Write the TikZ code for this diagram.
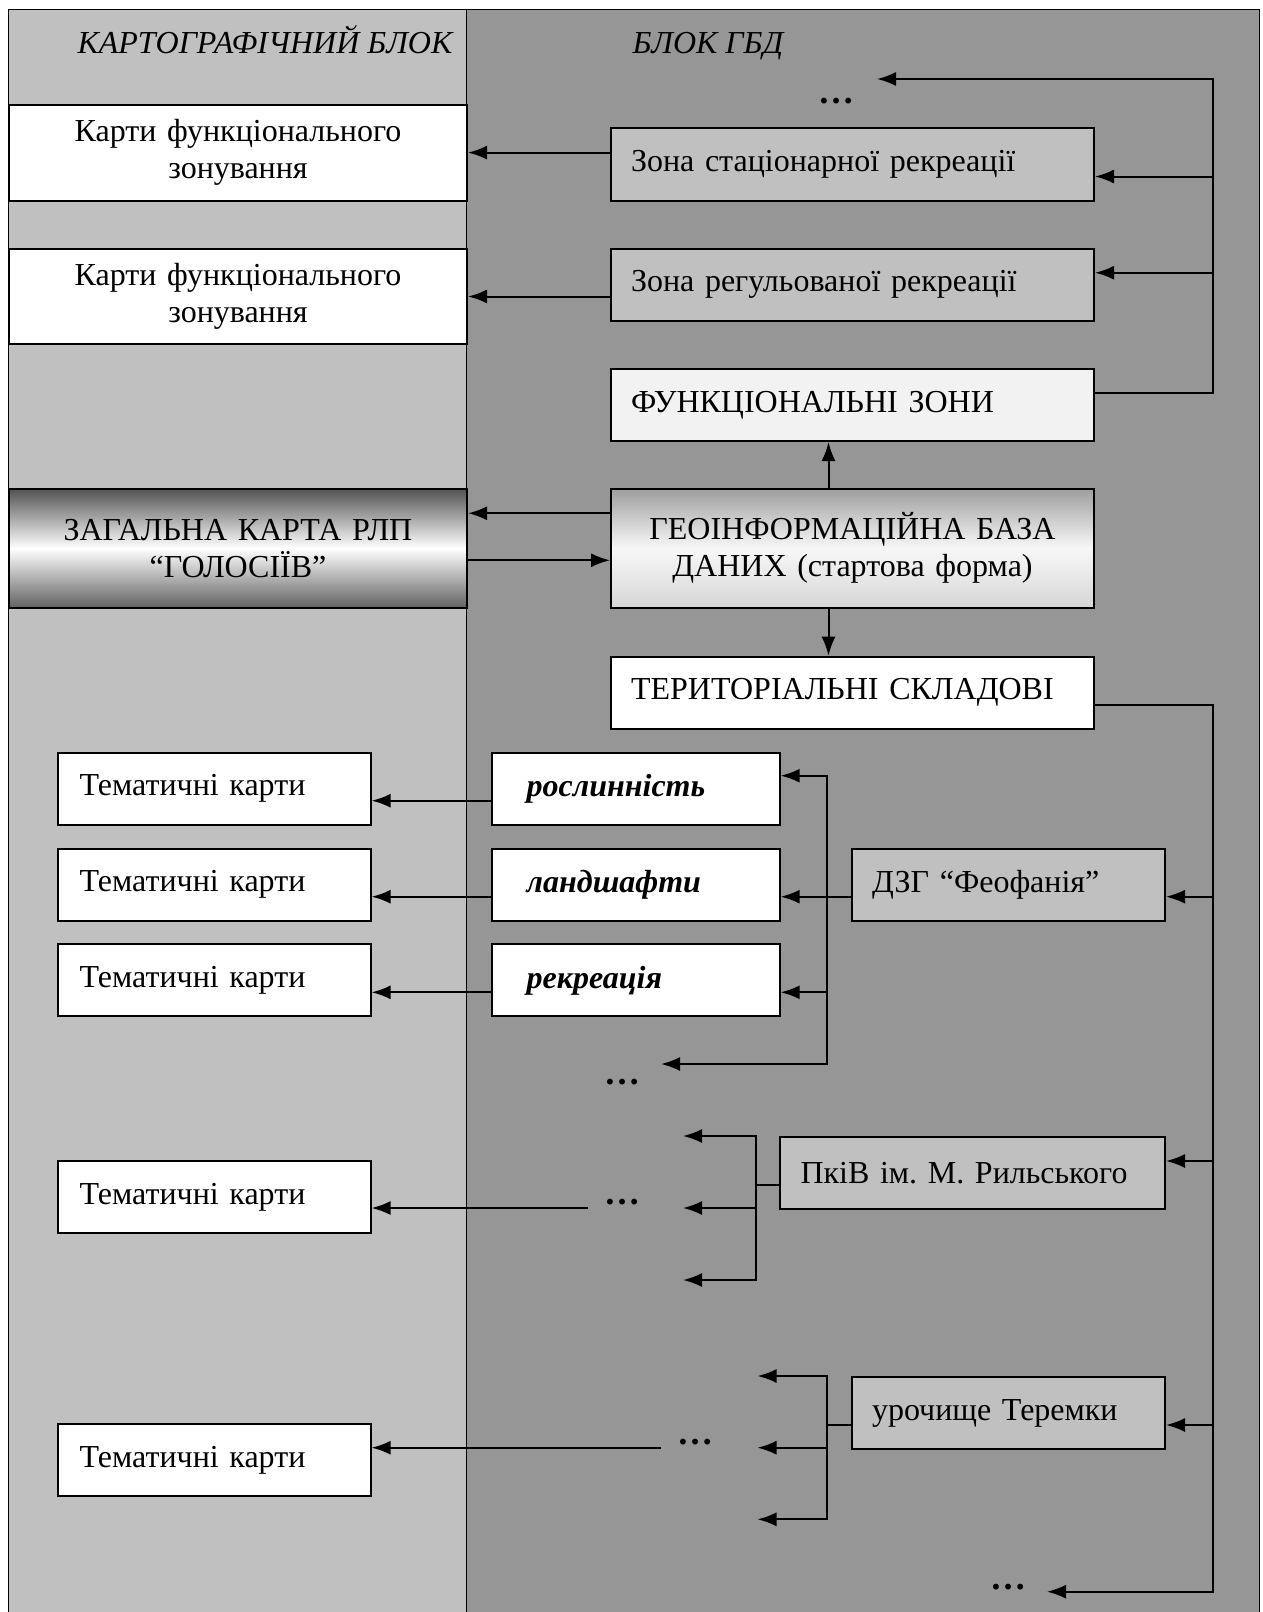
\documentclass[tikz,border=0pt]{standalone}
\usepackage{fontspec}
\setmainfont{Liberation Serif}
\usetikzlibrary{arrows.meta}

\definecolor{leftgray}{HTML}{C0C0C0}
\definecolor{rightgray}{HTML}{969696}
\newcommand{\diagfont}{\fontsize{32}{37}\selectfont}
\frenchspacing

\tikzset{
    >={Latex[length=19pt,width=14pt]},
    every node/.style={font=\diagfont},
    box/.style={draw, line width=2pt, anchor=north west, inner ysep=0pt, inner xsep=20pt, align=left},
    link/.style={line width=2pt},
    dots/.style={font=\fontsize{36}{40}\selectfont\bfseries},
}

\begin{document}
\begin{tikzpicture}[x=1pt, y=-1pt]

    \useasboundingbox (0,0) rectangle (1263,1612);

    % фон двох блоків
    \fill[leftgray] (8,9) rectangle (466,1612);
    \fill[rightgray] (466,9) rectangle (1259,1612);
    \draw[line width=1pt] (8,1612) -- (8,9) -- (1259,9) -- (1259,1612);
    \draw[line width=1pt] (466,9) -- (466,1612);

    % заголовки
    \node[anchor=base west, font=\diagfont\itshape] (hcart) at (74,53) {КАРТОГРАФІЧНИЙ БЛОК};
    \node[anchor=base west, font=\diagfont\itshape] (hgbd) at (629,53) {БЛОК ГБД};

    % картографічний блок
    \node[box, fill=white, minimum width=458pt, minimum height=96pt, text width=418pt, align=center] (map1) at (8,103.6) {Карти функціонального\\зонування};
    \node[box, fill=white, minimum width=458pt, minimum height=95pt, text width=418pt, align=center] (map2) at (8,248) {Карти функціонального\\зонування};
    \node[box, top color=black!68, bottom color=black!62, middle color=white, minimum width=458pt, minimum height=119.5pt, text width=418pt, align=center] (gen) at (8,487.5) {ЗАГАЛЬНА КАРТА РЛП\\“ГОЛОСІЇВ”};

    \node[box, fill=white, minimum width=313pt, minimum height=72pt, text width=269pt, inner xsep=22pt] (t1) at (56.6,751.7) {Тематичні карти};
    \node[box, fill=white, minimum width=313pt, minimum height=72pt, text width=269pt, inner xsep=22pt] (t2) at (56.6,847.7) {Тематичні карти};
    \node[box, fill=white, minimum width=313pt, minimum height=72pt, text width=269pt, inner xsep=22pt] (t3) at (56.6,943.3) {Тематичні карти};
    \node[box, fill=white, minimum width=313pt, minimum height=72pt, text width=269pt, inner xsep=22pt] (t4) at (56.6,1160) {Тематичні карти};
    \node[box, fill=white, minimum width=313pt, minimum height=72pt, text width=269pt, inner xsep=22pt] (t5) at (56.6,1423.3) {Тематичні карти};

    % блок ГБД
    \node[box, fill=leftgray, minimum width=483pt, minimum height=73pt, text width=443pt] (zs) at (610,127) {Зона стаціонарної рекреації};
    \node[box, fill=leftgray, minimum width=483pt, minimum height=71.5pt, text width=443pt] (zr) at (610,248) {Зона регульованої рекреації};
    \node[box, fill=black!5, minimum width=483pt, minimum height=72pt, text width=443pt] (fz) at (610,368) {ФУНКЦІОНАЛЬНІ ЗОНИ};
    \node[box, top color=black!38, bottom color=white!84!black, middle color=white!97!black, minimum width=483pt, minimum height=119.5pt, text width=443pt, align=center] (geo) at (610,487.5) {ГЕОІНФОРМАЦІЙНА БАЗА\\ДАНИХ (стартова форма)};
    \node[box, fill=white, minimum width=483pt, minimum height=72pt, text width=443pt] (ts) at (610,655.7) {ТЕРИТОРІАЛЬНІ СКЛАДОВІ};

    \node[box, fill=white, minimum width=288pt, minimum height=72pt, text width=218pt, inner xsep=35pt, font=\diagfont\bfseries\itshape] (ros) at (490.7,751.7) {рослинність};
    \node[box, fill=white, minimum width=288pt, minimum height=72pt, text width=218pt, inner xsep=35pt, font=\diagfont\bfseries\itshape] (lan) at (490.7,847.7) {ландшафти};
    \node[box, fill=white, minimum width=288pt, minimum height=72pt, text width=218pt, inner xsep=35pt, font=\diagfont\bfseries\itshape] (rek) at (490.7,943.3) {рекреація};

    \node[box, fill=leftgray, minimum width=313pt, minimum height=72pt, text width=273pt] (dzg) at (851,847.7) {ДЗГ “Феофанія”};
    \node[box, fill=leftgray, minimum width=385.5pt, minimum height=72pt, text width=343.5pt, inner xsep=21pt] (pkv) at (778.5,1136) {ПкіВ ім. М. Рильського};
    \node[box, fill=leftgray, minimum width=313pt, minimum height=72pt, text width=273pt] (ur) at (851,1376) {урочище Теремки};

    % три крапки
    \node[dots] (d1) at (836,101) {…};
    \node[dots] (d2) at (622,1082) {…};
    \node[dots] (d3) at (622,1202) {…};
    \node[dots] (d4) at (695,1442) {…};
    \node[dots] (d5) at (1008,1587) {…};

    % точки шин
    \coordinate (bt) at (1212.6,79);
    \coordinate (bb) at (1212.6,1591.7);
    \coordinate (e1) at (877,79);
    \coordinate (e5) at (1047,1591.7);
    \coordinate (b2b) at (827,1064);
    \coordinate (e2) at (661,1064);
    \coordinate (b3t) at (756,1136);
    \coordinate (b3b) at (756,1280);
    \coordinate (a3t) at (683,1136);
    \coordinate (a3m) at (683,1208);
    \coordinate (a3b) at (683,1280);
    \coordinate (s4) at (588,1208);
    \coordinate (b4t) at (827,1376);
    \coordinate (b4b) at (827,1519.3);
    \coordinate (a4t) at (757.5,1376);
    \coordinate (a4m) at (757.5,1447.7);
    \coordinate (a4b) at (757.5,1519.3);
    \coordinate (s5) at (660.5,1447.7);

    % функціональні зони
    \draw[link, ->] ([yshift=12pt]fz.east) -| (bt) -- (e1);
    \coordinate (zsIn) at ([yshift=-12pt]zs.east);
    \draw[link, ->] (zsIn -| bt) -- (zsIn);
    \coordinate (zrIn) at ([yshift=12pt]zr.east);
    \draw[link, ->] (zrIn -| bt) -- (zrIn);
    \draw[link, ->] (zs.west |- map1.east) -- (map1.east);
    \draw[link, ->] (zr.west |- map2.east) -- (map2.east);

    % база даних
    \draw[link, ->] ([xshift=-24pt]geo.north) -- ([xshift=-24pt]fz.south);
    \draw[link, ->] ([xshift=-24pt]geo.south) -- ([xshift=-24pt]ts.north);
    \draw[link, ->] ([yshift=35pt]geo.west) -- ([yshift=35pt]gen.east);
    \draw[link, ->] ([yshift=-12pt]gen.east) -- ([yshift=-12pt]geo.west);

    % територіальні складові
    \draw[link, ->] ([yshift=-12pt]ts.east) -| (bb) -- (e5);
    \coordinate (dzgIn) at ([yshift=-12pt]dzg.east);
    \draw[link, ->] (dzgIn -| bt) -- (dzgIn);
    \coordinate (pkvIn) at ([yshift=12pt]pkv.east);
    \draw[link, ->] (pkvIn -| bt) -- (pkvIn);
    \coordinate (urIn) at ([yshift=-12pt]ur.east);
    \draw[link, ->] (urIn -| bt) -- (urIn);

    % ДЗГ "Феофанія"
    \draw[link, ->] ([yshift=-12pt]dzg.west) -- ([yshift=-12pt]lan.east);
    \draw[link, <->] ([yshift=13pt]ros.east) -| (b2b) -- (e2);
    \coordinate (rekIn) at ([yshift=-12pt]rek.east);
    \draw[link, ->] (rekIn -| b2b) -- (rekIn);
    \draw[link, ->] ([yshift=-12pt]ros.west) -- ([yshift=-12pt]t1.east);
    \draw[link, ->] ([yshift=-12pt]lan.west) -- ([yshift=-12pt]t2.east);
    \draw[link, ->] ([yshift=-12pt]rek.west) -- ([yshift=-12pt]t3.east);

    % ПкіВ
    \coordinate (pkvOut) at ([yshift=-12pt]pkv.west);
    \draw[link] (pkvOut) -- (pkvOut -| b3t);
    \draw[link, <->] (a3t) -- (b3t) -- (b3b) -- (a3b);
    \draw[link, ->] (a3m -| b3t) -- (a3m);
    \draw[link, ->] (s4) -- (t4.east |- s4);

    % урочище Теремки
    \coordinate (urOut) at ([yshift=-12pt]ur.west);
    \draw[link] (urOut) -- (urOut -| b4t);
    \draw[link, <->] (a4t) -- (b4t) -- (b4b) -- (a4b);
    \draw[link, ->] (a4m -| b4t) -- (a4m);
    \draw[link, ->] (s5) -- (t5.east |- s5);

\end{tikzpicture}
\end{document}
